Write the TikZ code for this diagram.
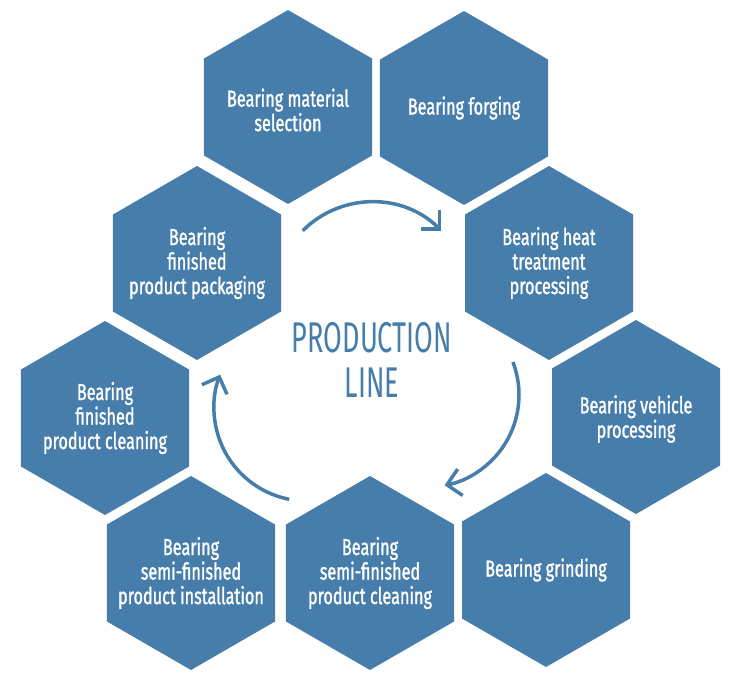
\documentclass[tikz,border=0pt]{standalone}
\usepackage{fontspec}
\setmainfont[FakeStretch=0.7, FakeBold=1.2]{Fira Sans}
\newfontfamily\titlefont[FakeStretch=0.63]{Fira Sans}
\usetikzlibrary{shapes.geometric}
\usetikzlibrary{arrows.meta}
\definecolor{hexblue}{RGB}{70,125,170}

\begin{document}
\begin{tikzpicture}[x=1pt,y=1pt,
  hexa/.style={regular polygon, regular polygon sides=6, shape border rotate=30, minimum size=194pt, inner sep=0pt, fill=hexblue},
  hextext/.style={text=white, align=center, font=\fontsize{23.2}{24.5}\selectfont},
  cyc/.style={draw=hexblue, line width=3.5pt, -{Straight Barb[angle=90:19pt]}}]
\useasboundingbox (0,0) rectangle (750,-697);
\node[hexa] (h1) at (288,-107) {};
\node[hexa] (h2) at (464,-108) {};
\node[hexa] (h3) at (549,-263) {};
\node[hexa] (h4) at (636,-417) {};
\node[hexa] (h5) at (546,-570) {};
\node[hexa] (h6) at (370,-573) {};
\node[hexa] (h7) at (191,-573) {};
\node[hexa] (h8) at (105,-418) {};
\node[hexa] (h9) at (197,-263) {};
\node[hextext] (t1) at ([yshift=-3pt]h1) {Bearing material\\selection};
\node[hextext] (t2) at (h2) {Bearing forging};
\node[hextext] (t3) at (h3) {Bearing heat\\treatment\\processing};
\node[hextext] (t4) at ([yshift=-2pt]h4) {Bearing vehicle\\processing};
\node[hextext] (t5) at (h5) {Bearing grinding};
\node[hextext] (t6) at (h6) {Bearing\\semi-finished\\product cleaning};
\node[hextext] (t7) at (h7) {Bearing\\semi-finished\\product installation};
\node[hextext] (t8) at (h8) {Bearing\\finished\\product cleaning};
\node[hextext] (t9) at (h9) {Bearing\\finished\\product packaging};
\node[text=hexblue, align=center, font=\titlefont\fontsize{43}{45}\selectfont] (title) at (372,-360) {PRODUCTION\\LINE};
\draw[cyc] ([shift={(135:98)}]372,-300) arc[start angle=135, end angle=45, radius=98];
\draw[cyc] ([shift={(21:92)}]427,-395) arc[start angle=21, end angle=-79, radius=92];
\draw[cyc] ([shift={(259:93)}]307,-408) arc[start angle=259, end angle=159, radius=93];
\end{tikzpicture}
\end{document}
